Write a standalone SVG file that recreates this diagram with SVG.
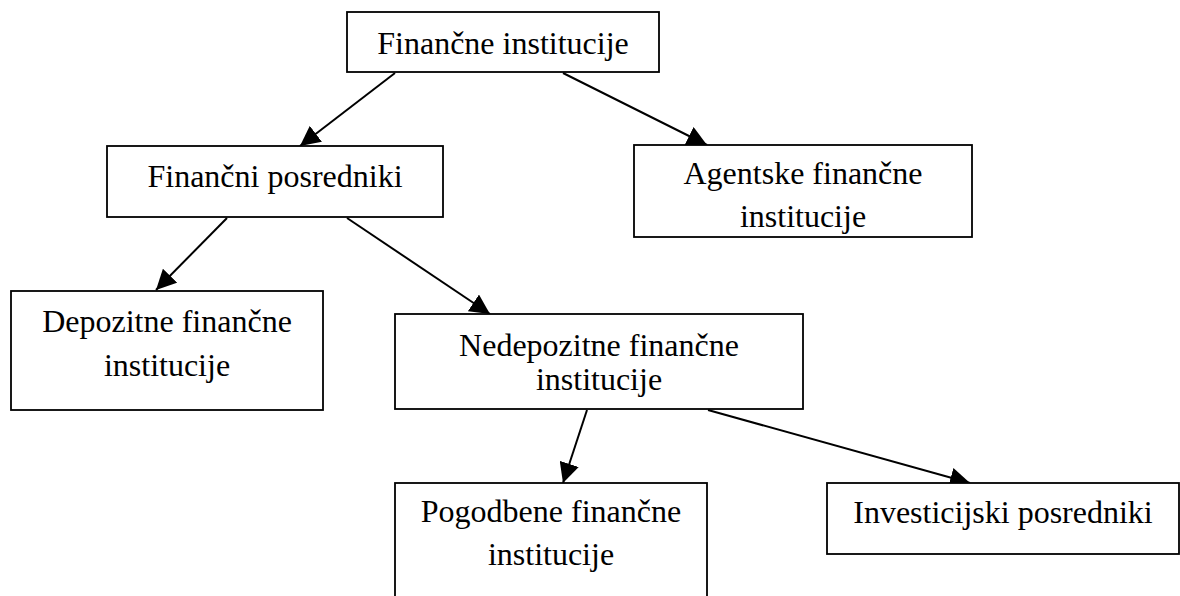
<svg xmlns="http://www.w3.org/2000/svg" width="1180" height="596" viewBox="0 0 1180 596">
<style>
.box{fill:#fff;stroke:#000;stroke-width:1.8}
.lbl{font-family:"Liberation Serif","Times New Roman",serif;font-size:32px;fill:#000;text-anchor:middle}
.edge{stroke:#000;stroke-width:2;fill:none;marker-end:url(#ah)}
</style>
<defs>
<marker id="ah" markerUnits="userSpaceOnUse" markerWidth="20" markerHeight="20" refX="20" refY="10" orient="auto" viewBox="0 0 20 20">
<path d="M0,0 L20,10 L0,20 z" fill="#000"/>
</marker>
</defs>
<rect width="1180" height="596" fill="#fff"/>
<g id="connectors">
<line class="edge" x1="395" y1="73" x2="300" y2="146"/>
<line class="edge" x1="563" y1="73" x2="707" y2="145"/>
<line class="edge" x1="227" y1="218" x2="156" y2="290"/>
<line class="edge" x1="347" y1="218" x2="490" y2="314"/>
<line class="edge" x1="587" y1="410" x2="563" y2="483"/>
<line class="edge" x1="708" y1="410" x2="970" y2="483"/>
</g>
<g id="n1">
<rect class="box" x="347" y="12" width="312" height="60"/>
<text class="lbl" x="503" y="54">Finančne institucije</text>
</g>
<g id="n2">
<rect class="box" x="107" y="146" width="336" height="71"/>
<text class="lbl" x="275" y="187">Finančni posredniki</text>
</g>
<g id="n3">
<rect class="box" x="634" y="145" width="338" height="92"/>
<text class="lbl" x="803" y="184">Agentske finančne</text>
<text class="lbl" x="803" y="227">institucije</text>
</g>
<g id="n4">
<rect class="box" x="11" y="291" width="312" height="119"/>
<text class="lbl" x="167" y="332">Depozitne finančne</text>
<text class="lbl" x="167" y="376">institucije</text>
</g>
<g id="n5">
<rect class="box" x="395" y="314" width="408" height="95"/>
<text class="lbl" x="599" y="356">Nedepozitne finančne</text>
<text class="lbl" x="599" y="390">institucije</text>
</g>
<g id="n6">
<rect class="box" x="395" y="483" width="312" height="120"/>
<text class="lbl" x="551" y="522">Pogodbene finančne</text>
<text class="lbl" x="551" y="565">institucije</text>
</g>
<g id="n7">
<rect class="box" x="827" y="483" width="352" height="71"/>
<text class="lbl" x="1003" y="523">Investicijski posredniki</text>
</g>
</svg>
